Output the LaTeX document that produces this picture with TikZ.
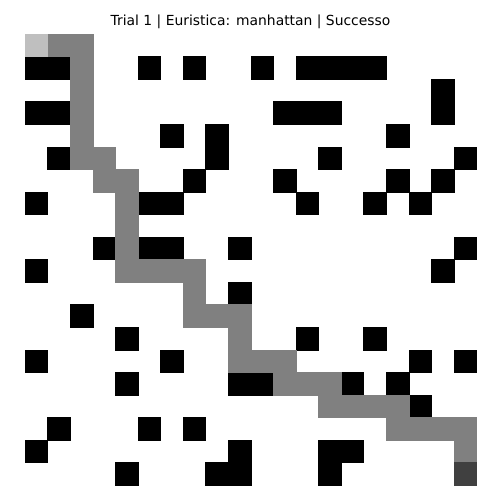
\documentclass[tikz,border=0pt]{standalone}
\usepackage{fontspec}
\setmainfont{DejaVu Sans}
\begin{document}
\begin{tikzpicture}[x=0.02cm,y=-0.02cm]
\useasboundingbox (0,0) rectangle (500,500);
\fill[white] (0,0) rectangle (500,500);
\tikzset{cellbox/.style={line width=0.2pt}}
\newcommand{\gcell}[3]{\fill[#3,draw=#3,cellbox] ({25+22.57*#1},{34+22.55*#2}) rectangle ++(22.57,22.55);}
% obstacles
\foreach \c/\r in {0/1,1/1,5/1,7/1,10/1,12/1,13/1,14/1,15/1,
  18/2,
  0/3,1/3,11/3,12/3,13/3,18/3,
  6/4,8/4,16/4,
  1/5,8/5,13/5,19/5,
  7/6,11/6,16/6,18/6,
  0/7,5/7,6/7,12/7,15/7,17/7,
  3/9,5/9,6/9,9/9,19/9,
  0/10,18/10,
  9/11,
  2/12,
  4/13,12/13,15/13,
  0/14,6/14,17/14,19/14,
  4/15,9/15,10/15,14/15,16/15,
  17/16,
  1/17,5/17,7/17,
  0/18,9/18,13/18,14/18,
  4/19,8/19,9/19,13/19}
  {\gcell{\c}{\r}{black}}
% path
\definecolor{pathgray}{HTML}{808080}
\definecolor{startgray}{HTML}{BFBFBF}
\definecolor{goalgray}{HTML}{404040}
\foreach \c/\r in {1/0,2/0,2/1,2/2,2/3,2/4,2/5,3/5,3/6,4/6,4/7,4/8,4/9,
  4/10,5/10,6/10,7/10,7/11,7/12,8/12,9/12,9/13,9/14,10/14,11/14,
  11/15,12/15,13/15,13/16,14/16,15/16,16/16,16/17,17/17,18/17,19/17,19/18}
  {\gcell{\c}{\r}{pathgray}}
\gcell{0}{0}{startgray}
\gcell{19}{19}{goalgray}
\node[anchor=base,inner sep=0pt,font=\fontsize{7.9}{9}\selectfont] (title) at (250.5,26) {Trial 1 | Euristica: manhattan | Successo};
\end{tikzpicture}
\end{document}
